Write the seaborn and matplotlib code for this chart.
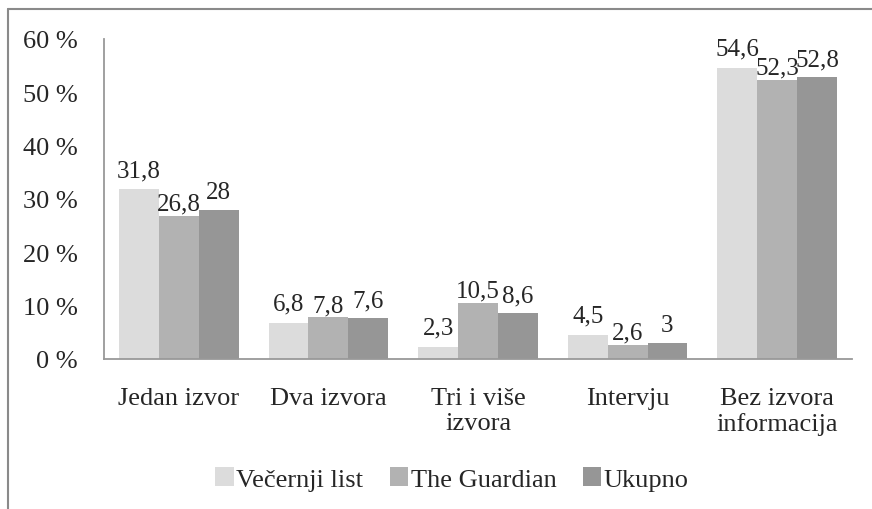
import matplotlib
matplotlib.use("Agg")
import matplotlib.pyplot as plt
import matplotlib.lines as mlines
import seaborn as sns
import pandas as pd
from matplotlib.ticker import FuncFormatter

# data
categories = ["Jedan izvor", "Dva izvora", "Tri i više\nizvora", "Intervju", "Bez izvora\ninformacija"]
series = ["Večernji list", "The Guardian", "Ukupno"]
vecernji = [31.8, 6.8, 2.3, 4.5, 54.6]
guardian = [26.8, 7.8, 10.5, 2.6, 52.3]
ukupno = [28, 7.6, 8.6, 3, 52.8]
colors = ["#dcdcdc", "#b2b2b2", "#969696"]

rows = []
for name, vals in zip(series, [vecernji, guardian, ukupno]):
    for cat, v in zip(categories, vals):
        rows.append({"kategorija": cat, "serija": name, "vrijednost": v})
df = pd.DataFrame(rows)

sns.set_style("white")
plt.rcParams["font.family"] = ["Liberation Serif", "DejaVu Serif"]
fs = 19

fig = plt.figure(figsize=(8.72, 5.10), dpi=100)
ax = fig.add_axes([104 / 872, 1 - 360 / 510, 748 / 872, 320 / 510])

sns.barplot(data=df, x="kategorija", y="vrijednost", hue="serija",
            order=categories, hue_order=series, palette=colors,
            width=0.8, saturation=1, linewidth=0, ax=ax, legend=True)

# middle series labels sit a little closer to the bars, like in the original
for cont, pad in zip(ax.containers, [6, 1, 5]):
    labels = [f"{b.get_height():g}".replace(".", ",") for b in cont]
    ax.bar_label(cont, labels=labels, padding=pad, fontsize=18)

ax.set_ylim(0, 60)
ax.set_yticks(range(0, 61, 10))
ax.yaxis.set_major_formatter(FuncFormatter(lambda v, p: f"{v:.0f} %"))
ax.set_xlabel("")
ax.set_ylabel("")
ax.tick_params(axis="both", length=0, labelsize=fs)
ax.tick_params(axis="x", pad=20)
ax.tick_params(axis="y", pad=19)
for side in ["top", "right"]:
    ax.spines[side].set_visible(False)
for side in ["left", "bottom"]:
    ax.spines[side].set_color("#999999")
    ax.spines[side].set_linewidth(1.3)

handles, labs = ax.get_legend_handles_labels()
ax.legend_.remove()
fig.legend(handles, labs, loc="center", bbox_to_anchor=(452 / 872, 1 - 480 / 510),
           ncol=3, frameon=False, fontsize=fs, handlelength=0.7, handleheight=0.7,
           handletextpad=0.1, columnspacing=1.0)

# outer border (top and left edges visible)
border = dict(color="#8a8a8a", linewidth=1.5, transform=fig.transFigure)
fig.add_artist(mlines.Line2D([8 / 872, 1], [1 - 10 / 510, 1 - 10 / 510], **border))
fig.add_artist(mlines.Line2D([8 / 872, 8 / 872], [0, 1 - 10 / 510], **border))

fig.savefig("out.png", dpi=100)
